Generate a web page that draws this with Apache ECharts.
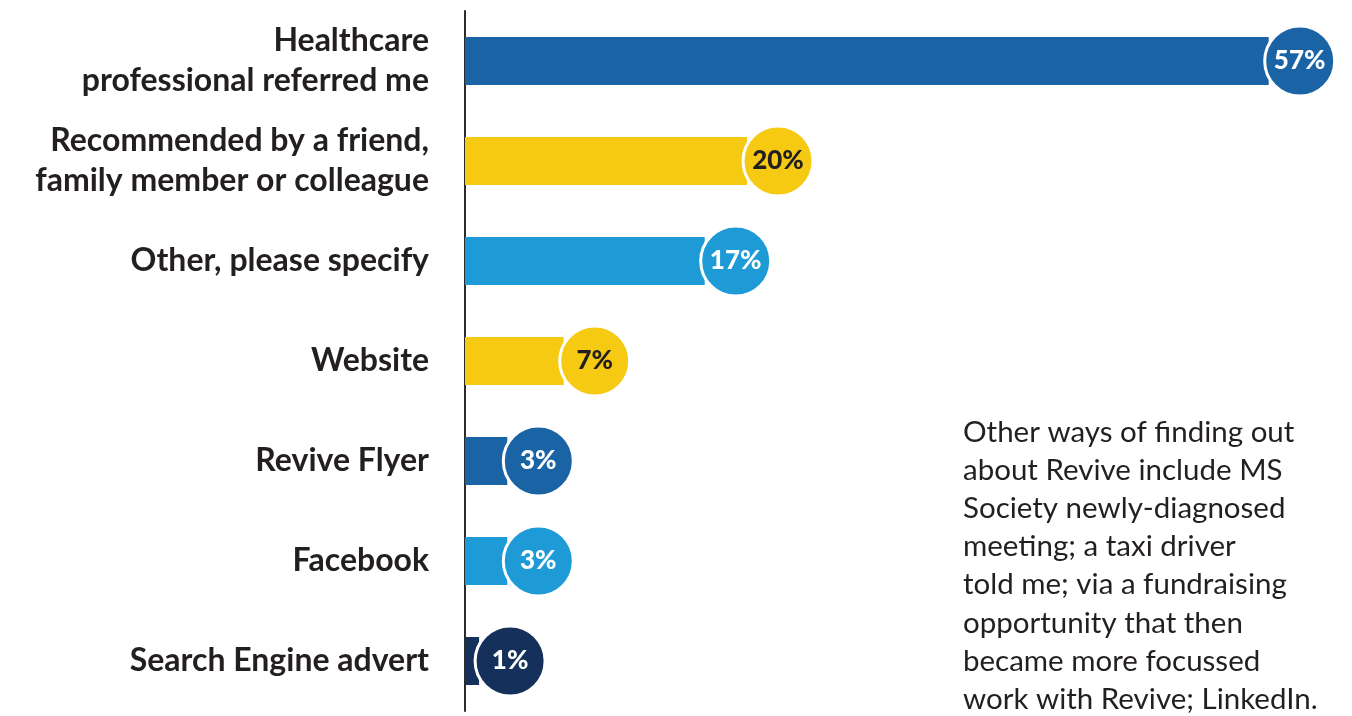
<!DOCTYPE html>
<html>
<head>
<meta charset="utf-8">
<title>How did you hear about Revive?</title>
<script src="https://cdn.jsdelivr.net/npm/echarts@6/dist/echarts.min.js"></script>
<style>
  html, body { margin: 0; padding: 0; background: #ffffff; }
  #chart { width: 1352px; height: 716px; }
</style>
</head>
<body>
<div id="chart"></div>
<script>
// Source of referral, share of respondents (%)
const categories = [
  'Healthcare\nprofessional referred me',
  'Recommended by a friend,\nfamily member or colleague',
  'Other, please specify',
  'Website',
  'Revive Flyer',
  'Facebook',
  'Search Engine advert'
];
const values = [57, 20, 17, 7, 3, 3, 1];

// Bar palette and matching label ink per category
const barColors = ['#1a64a6', '#f6ca12', '#1e9bd7', '#f6ca12', '#1a64a6', '#1e9bd7', '#15305a'];
const labelInk  = ['#ffffff', '#231f20', '#ffffff', '#231f20', '#ffffff', '#ffffff', '#ffffff'];

const noteText = [
  'Other ways of finding out',
  'about Revive include MS',
  'Society newly-diagnosed',
  'meeting; a taxi driver',
  'told me; via a fundraising',
  'opportunity that then',
  'became more focussed',
  'work with Revive; LinkedIn.'
].join('\n');

const FONT = 'Lato, "Open Sans", sans-serif';

const chart = echarts.init(document.getElementById('chart'), null, { renderer: 'canvas' });

chart.setOption({
  backgroundColor: '#ffffff',
  animation: false,
  grid: { left: 465, top: 11, height: 700, width: 846, containLabel: false },
  xAxis: {
    type: 'value', min: 0, max: 60,
    show: false
  },
  yAxis: {
    type: 'category',
    inverse: true,
    data: categories,
    axisLine: { show: true, lineStyle: { color: '#2b2b2b', width: 2 } },
    axisTick: { show: false },
    axisLabel: {
      margin: 36,
      align: 'right',
      fontFamily: FONT,
      fontWeight: 'bold',
      fontSize: 32,
      lineHeight: 40,
      color: '#231f20'
    }
  },
  series: [
    {
      type: 'bar',
      barWidth: 48,
      data: values.map((v, i) => ({ value: v, itemStyle: { color: barColors[i] } })),
      silent: true,
      z: 2
    },
    {
      type: 'scatter',
      symbol: 'circle',
      symbolSize: 70,
      symbolOffset: [31, 0],
      clip: false,
      data: values.map((v, i) => ({
        value: [v, i],
        itemStyle: { color: barColors[i], borderColor: '#ffffff', borderWidth: 3, opacity: 1 },
        label: { color: labelInk[i] }
      })),
      label: {
        show: true,
        position: 'inside',
        overflow: 'none',
        formatter: p => p.value[0] + '%',
        fontFamily: FONT,
        fontWeight: 900,
        fontSize: 26
      },
      silent: true,
      z: 3
    }
  ],
  graphic: [
    {
      type: 'text',
      left: 963,
      top: 413,
      style: {
        text: noteText,
        fontFamily: FONT,
        fontSize: 29.5,
        lineHeight: 38.2,
        fill: '#231f20'
      }
    }
  ]
});
</script>
</body>
</html>
